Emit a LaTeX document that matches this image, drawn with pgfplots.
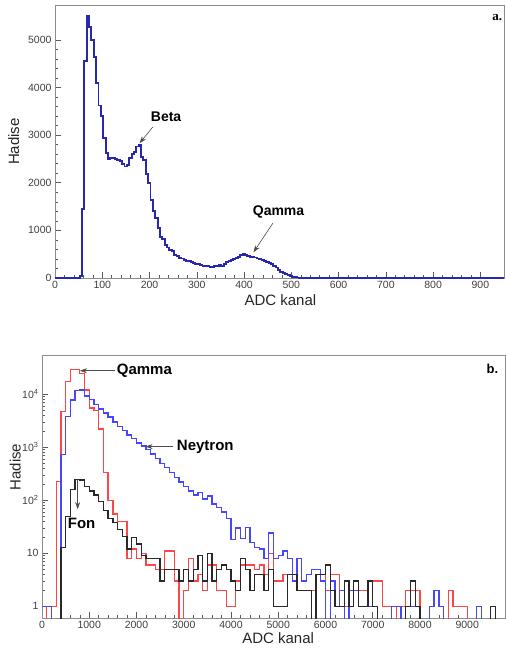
\documentclass[border=0pt]{standalone}
\usepackage{pgfplots}
\pgfplotsset{compat=1.18}
\usepackage{pgfplotstable}
\usepackage{fontspec}
\setmainfont{Liberation Sans}
\newfontfamily\serifbold{Liberation Serif}
\usetikzlibrary{arrows.meta}

\pgfplotstableread{
x y
0 0
52 40
57 1450
62 4550
67 5490
72 5270
77 4990
82 4640
87 4100
92 3620
97 3400
102 2940
107 2630
112 2490
117 2510
122 2520
127 2500
132 2480
137 2450
142 2400
147 2340
152 2380
157 2520
162 2600
167 2650
172 2760
177 2790
182 2540
187 2480
192 2180
197 1990
202 1640
207 1400
212 1260
217 1050
222 870
227 820
232 700
237 640
242 590
247 560
252 480
257 460
262 420
267 410
272 380
277 360
282 350
287 330
292 320
297 300
302 290
307 280
312 260
317 245
322 250
327 230
332 225
337 260
342 250
347 270
352 260
357 290
362 330
367 360
372 370
377 390
382 420
387 450
392 480
397 510
402 490
407 460
412 440
417 450
422 430
427 410
432 400
437 370
442 350
447 330
452 310
457 290
462 260
467 220
472 170
477 130
482 100
487 75
492 55
497 40
502 28
507 18
512 10
517 5
522 2
527 0
950 0
}\spectrumA

\pgfplotstableread{
x blue red black
0 1 0.01 0.01
100 1 1 0.01
200 0.01 1 0.01
300 0.01 225 0.01
400 720 4700 13
500 3800 17500 50
600 7800 29500 160
700 11800 29500 245
800 12000 25000 240
900 9300 12000 180
1000 8000 5500 150
1100 6500 5000 125
1200 5300 2200 95
1300 4400 330 65
1400 3700 100 45
1500 3000 55 38
1600 2500 40 28
1700 2100 40 21
1800 1700 8 12
1900 1450 12 20
2000 1200 8 15
2100 1050 10 9
2200 900 6 8
2300 750 6 8
2400 620 5 8
2500 500 5 3
2600 420 11 5
2700 330 11 5
2800 270 3 5
2900 220 0.01 3
3000 180 2 5
3100 150 8 3
3200 125 3 5
3300 140 4 9
3400 105 2 3
3500 120 6 10
3600 85 6 3
3700 72 2 5
3800 60 2 6
3900 45 1 5
4000 18 1 3
4100 30 3 2
4200 19 6 8
4300 31 6 5
4400 16 6 2
4500 13 5 4
4600 12 6 4
4700 8 4 2
4800 24 10 5
4900 8 3 1
5000 9 3 1
5100 11 4 1
5200 8 4 4
5300 3 4 4
5400 8 2 2
5500 3 2 2
5600 4 2 2
5700 5 2 0.01
5800 5 4 4
5900 3 4 4
6000 0.01 2 6
6100 3 4 2
6200 1 4 1
6300 2 2 1
6400 0.01 1 3
6500 2 1 1
6600 2 3 3
6700 1 2 1
6800 1 2 1
6900 1 1 3
7000 1 3 1
7100 0.01 3 0.01
7200 0.01 1 0.01
7300 0.01 1 0.01
7400 1 1 0.01
7500 1 0.01 0.01
7600 0.01 1 0.01
7700 1 2 1
7800 1 2 3
7900 1 2 1
8000 0.01 0.01 0.01
8100 0.01 0.01 0.01
8200 1 0.01 0.01
8300 2 0.01 0.01
8400 1 0.01 0.01
8500 0.01 0.01 0.01
8600 0.01 2 0.01
8700 0.01 1 0.01
8800 0.01 1 0.01
8900 0.01 1 0.01
9000 0.01 0.01 0.01
9100 0.01 0.01 0.01
9200 1 0.01 0.01
9300 0.01 0.01 0.01
9400 0.01 0.01 0.01
9500 0.01 0.01 1
9600 0.01 0.01 0.01
9700 0.01 0.01 0.01
9800 0.01 0.01 0.01
}\spectrumB

\pgfplotsset{rootstyle/.style={
  scale only axis, clip=true,
  axis line style={black!45, line width=0.8pt},
  tick style={black!65, line width=0.5pt},
  xtick pos=bottom, ytick pos=left, tick align=inside,
  major tick length=6pt, minor tick length=3pt,
  tick label style={font=\fontsize{10.5}{12}\selectfont, text=black!75},
  /pgf/number format/assume math mode=true,
  label style={font=\fontsize{15}{17}\selectfont, text=black!85},
  scaled ticks=false,
}}
\tikzset{annarrow/.style={-{Stealth[length=7pt,width=5pt]}, black!70, line width=0.6pt}}

\begin{document}
\begin{tikzpicture}
\path[use as bounding box] (0,0) rectangle (506pt,-649pt);

% ---------- panel a ----------
\begin{axis}[rootstyle,
  at={(55pt,-278pt)}, anchor=south west, width=449pt, height=273pt,
  xmin=0, xmax=950, ymin=0, ymax=5730,
  xtick={0,100,...,900}, minor x tick num=4,
  ytick={0,1000,...,5000}, minor y tick num=4,
  xlabel={ADC kanal}, ylabel={Hadise},
  xlabel style={at={(axis description cs:0.502,-0.080)}, anchor=center},
  ylabel style={at={(axis description cs:-0.092,0.5)}, anchor=center},
  /pgf/number format/1000 sep={},
]
\addplot[const plot, color={rgb,255:red,40;green,40;blue,175}, line width=1.9pt] table[x=x,y=y] {\spectrumA};
\end{axis}
\begin{axis}[scale only axis, hide axis,
  at={(55pt,-278pt)}, anchor=south west, width=449pt, height=273pt,
  xmin=0, xmax=950, ymin=0, ymax=5730, clip=false]
\node[font=\bfseries\fontsize{14}{16}\selectfont] at (axis cs:235,3380) {Beta};
\draw[annarrow] (axis cs:207,3170) -- (axis cs:179,2830);
\node[font=\bfseries\fontsize{14}{16}\selectfont] at (axis cs:473,1385) {Qamma};
\draw[annarrow] (axis cs:461,1150) -- (axis cs:420,540);
\node[font=\serifbold\bfseries\fontsize{13}{15}\selectfont] at (axis description cs:0.985,0.954) {a.};
\end{axis}

% ---------- panel b ----------
\begin{axis}[rootstyle, ymode=log,
  at={(42pt,-618pt)}, anchor=south west, width=463pt, height=263pt,
  xmin=0, xmax=9800, ymin=0.6, ymax=55000,
  xtick={0,1000,...,9000}, minor x tick num=4,
  ytick={1,10,100,1000,10000},
  yticklabels={1,10,10\textsuperscript{2},10\textsuperscript{3},10\textsuperscript{4}},
  xlabel={ADC kanal}, ylabel={Hadise},
  xlabel style={at={(axis description cs:0.51,-0.076)}, anchor=center},
  ylabel style={at={(axis description cs:-0.058,0.574)}, anchor=center},
  /pgf/number format/1000 sep={},
]
\addplot[const plot, color={rgb,255:red,255;green,70;blue,70}, line width=1.3pt] table[x=x,y=red] {\spectrumB};
\addplot[const plot, color={rgb,255:red,70;green,70;blue,255}, line width=1.3pt] table[x=x,y=blue] {\spectrumB};
\addplot[const plot, color={rgb,255:red,40;green,40;blue,40}, line width=1.3pt] table[x=x,y=black] {\spectrumB};
\end{axis}
\begin{axis}[scale only axis, hide axis, ymode=log,
  at={(42pt,-618pt)}, anchor=south west, width=463pt, height=263pt,
  xmin=0, xmax=9800, ymin=0.6, ymax=55000, clip=false]
\node[font=\bfseries\fontsize{15}{17}\selectfont] at (axis cs:2167,27800) {Qamma};
\draw[annarrow] (axis cs:1543,27800) -- (axis cs:803,27800);
\node[font=\bfseries\fontsize{15}{17}\selectfont] at (axis cs:3457,1030) {Neytron};
\draw[annarrow] (axis cs:2776,1030) -- (axis cs:2192,1030);
\node[font=\bfseries\fontsize{15}{17}\selectfont] at (axis cs:839,37) {Fon};
\draw[annarrow] (axis cs:755,244) -- (axis cs:755,68);
\node[font=\bfseries\fontsize{13}{15}\selectfont] at (axis description cs:0.973,0.949) {b.};
\end{axis}
\end{tikzpicture}
\end{document}
